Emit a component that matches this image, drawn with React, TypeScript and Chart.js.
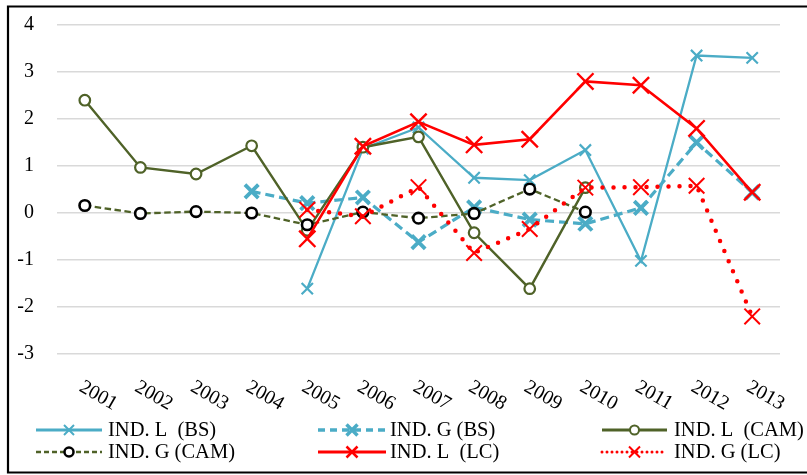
import React, { useEffect, useRef } from "react";
import { Chart, registerables } from "chart.js";

Chart.register(...registerables);

const years = ["2001", "2002", "2003", "2004", "2005", "2006", "2007", "2008", "2009", "2010", "2011", "2012", "2013"];
const indLBS = [null, null, null, null, -1.61, 1.37, 1.82, 0.75, 0.7, 1.34, -1.02, 3.35, 3.3];
const indGBS = [null, null, null, 0.46, 0.21, 0.33, -0.62, 0.12, -0.14, -0.23, 0.11, 1.5, 0.44];
const indLCAM = [2.4, 0.97, 0.83, 1.43, -0.37, 1.4, 1.62, -0.42, -1.61, 0.54, null, null, null];
const indGCAM = [0.16, -0.01, 0.03, 0.0, -0.25, 0.02, -0.11, -0.01, 0.51, 0.02, null, null, null];
const indLLC = [null, null, null, null, -0.55, 1.42, 1.94, 1.45, 1.57, 2.8, 2.72, 1.8, 0.44];
const indGLC = [null, null, null, null, 0.07, -0.07, 0.55, -0.85, -0.34, 0.54, 0.55, 0.58, -2.2];
const yMin = -3;
const yMax = 4;

const BLUE = "#4BACC6";
const OLIVE = "#4F6228";
const RED = "#FF0000";
const FONT = '"Liberation Serif", "Times New Roman", serif';

type LegendSpec = {
  label: string;
  color: string;
  width: number;
  dash: number[];
  cap: CanvasLineCap;
  marker: "x" | "circle";
  markerColor: string;
  markerWidth: number;
  markerSize: number;
};

const legendItems: LegendSpec[] = [
  { label: "IND. L  (BS)", color: BLUE, width: 3, dash: [], cap: "butt", marker: "x", markerColor: BLUE, markerWidth: 2, markerSize: 5 },
  { label: "IND. G (BS)", color: BLUE, width: 3.5, dash: [7, 5], cap: "butt", marker: "x", markerColor: BLUE, markerWidth: 3.5, markerSize: 5.5 },
  { label: "IND. L  (CAM)", color: OLIVE, width: 3, dash: [], cap: "butt", marker: "circle", markerColor: OLIVE, markerWidth: 2, markerSize: 4.5 },
  { label: "IND. G (CAM)", color: OLIVE, width: 2.5, dash: [5, 3], cap: "butt", marker: "circle", markerColor: "#000000", markerWidth: 2.5, markerSize: 4.5 },
  { label: "IND. L  (LC)", color: RED, width: 3, dash: [], cap: "butt", marker: "x", markerColor: RED, markerWidth: 2.5, markerSize: 5.5 },
  { label: "IND. G (LC)", color: RED, width: 3, dash: [0, 5], cap: "round", marker: "x", markerColor: RED, markerWidth: 2, markerSize: 5.5 },
];

const legendCols = [
  { x1: 36, x2: 102, tx: 108 },
  { x1: 318, x2: 386, tx: 390 },
  { x1: 602, x2: 667, tx: 674 },
];
const legendRows = [430, 452];

const overlayPlugin = {
  id: "overlay",
  afterDraw(chart: any) {
    const ctx: CanvasRenderingContext2D = chart.ctx;
    const xScale = chart.scales.x;
    // x labels, rotated clockwise
    ctx.save();
    ctx.fillStyle = "#000";
    ctx.font = `20px ${FONT}`;
    ctx.textAlign = "left";
    ctx.textBaseline = "top";
    years.forEach((yr, i) => {
      const px = xScale.getPixelForValue(i);
      ctx.save();
      ctx.translate(px + 1, 377);
      ctx.rotate((30 * Math.PI) / 180);
      ctx.fillText(yr, 0, 0);
      ctx.restore();
    });
    ctx.restore();

    // legend
    legendItems.forEach((it, idx) => {
      const col = legendCols[idx % 3];
      const y = legendRows[Math.floor(idx / 3)];
      ctx.save();
      ctx.strokeStyle = it.color;
      ctx.lineWidth = it.width;
      ctx.setLineDash(it.dash);
      ctx.lineCap = it.cap;
      ctx.beginPath();
      ctx.moveTo(col.x1, y);
      ctx.lineTo(col.x2, y);
      ctx.stroke();
      ctx.setLineDash([]);
      ctx.lineCap = "butt";
      const cx = (col.x1 + col.x2) / 2;
      ctx.strokeStyle = it.markerColor;
      ctx.lineWidth = it.markerWidth;
      if (it.marker === "x") {
        const s = it.markerSize;
        ctx.beginPath();
        ctx.moveTo(cx - s, y - s);
        ctx.lineTo(cx + s, y + s);
        ctx.moveTo(cx - s, y + s);
        ctx.lineTo(cx + s, y - s);
        ctx.stroke();
      } else {
        ctx.fillStyle = "#fff";
        ctx.beginPath();
        ctx.arc(cx, y, it.markerSize, 0, Math.PI * 2);
        ctx.fill();
        ctx.stroke();
      }
      ctx.fillStyle = "#000";
      ctx.font = `20.5px ${FONT}`;
      ctx.textAlign = "left";
      ctx.textBaseline = "middle";
      ctx.fillText(it.label, col.tx, y + 1);
      ctx.restore();
    });

    // border
    ctx.save();
    ctx.strokeStyle = "#000";
    ctx.lineWidth = 2.2;
    ctx.beginPath();
    ctx.moveTo(830, 6.5);
    ctx.lineTo(8, 6.5);
    ctx.lineTo(8, 472.5);
    ctx.lineTo(830, 472.5);
    ctx.stroke();
    ctx.restore();
  },
};

export default function App() {
  const ref = useRef<HTMLCanvasElement | null>(null);
  useEffect(() => {
    if (!ref.current) return;
    const chart = new Chart(ref.current, {
      type: "line",
      data: {
        labels: years,
        datasets: [
          {
            label: "IND. L  (BS)",
            data: indLBS,
            borderColor: BLUE,
            borderWidth: 2.3,
            pointStyle: "crossRot",
            pointRadius: 8,
            pointBorderWidth: 2.2,
            pointBorderColor: BLUE,
            pointBackgroundColor: BLUE,
            fill: false,
            order: 6,
          },
          {
            label: "IND. G (BS)",
            data: indGBS,
            borderColor: BLUE,
            borderWidth: 3.2,
            borderDash: [9, 5],
            pointStyle: "crossRot",
            pointRadius: 9.5,
            pointBorderWidth: 3.8,
            pointBorderColor: BLUE,
            pointBackgroundColor: BLUE,
            fill: false,
            order: 5,
          },
          {
            label: "IND. L  (CAM)",
            data: indLCAM,
            borderColor: OLIVE,
            borderWidth: 2.4,
            pointStyle: "circle",
            pointRadius: 5.3,
            pointBorderWidth: 2.2,
            pointBorderColor: OLIVE,
            pointBackgroundColor: "#fff",
            fill: false,
            order: 4,
          },
          {
            label: "IND. G (CAM)",
            data: indGCAM,
            borderColor: OLIVE,
            borderWidth: 2.3,
            borderDash: [6.5, 3.5],
            pointStyle: "circle",
            pointRadius: 5.3,
            pointBorderWidth: 2.6,
            pointBorderColor: "#000",
            pointBackgroundColor: "#fff",
            fill: false,
            order: 3,
          },
          {
            label: "IND. L  (LC)",
            data: indLLC,
            borderColor: RED,
            borderWidth: 2.6,
            pointStyle: "crossRot",
            pointRadius: 11.5,
            pointBorderWidth: 2.4,
            pointBorderColor: RED,
            pointBackgroundColor: RED,
            fill: false,
            order: 1,
          },
          {
            label: "IND. G (LC)",
            data: indGLC,
            borderColor: RED,
            borderWidth: 4.5,
            borderDash: [0, 11],
            borderCapStyle: "round",
            pointStyle: "crossRot",
            pointRadius: 11,
            pointBorderWidth: 2,
            pointBorderColor: RED,
            pointBackgroundColor: RED,
            fill: false,
            order: 2,
          },
        ] as any,
      },
      options: {
        animation: false,
        responsive: false,
        devicePixelRatio: 1,
        layout: { padding: { left: 0, right: 27, top: 25, bottom: 0 } },
        plugins: {
          legend: { display: false },
          tooltip: { enabled: false },
        },
        scales: {
          x: {
            type: "category",
            offset: true,
            grid: { display: false },
            border: { display: false },
            ticks: { display: false },
            afterFit: (s: any) => {
              s.height = 121;
              s.paddingLeft = 0;
              s.paddingRight = 0;
            },
          },
          y: {
            min: yMin,
            max: yMax,
            ticks: {
              stepSize: 1,
              color: "#000",
              padding: 23,
              font: { family: FONT, size: 20 },
            },
            grid: { color: "#D9D9D9", lineWidth: 1.6, drawTicks: false },
            border: { display: false },
            afterFit: (s: any) => {
              s.width = 57;
              s.paddingTop = 0;
              s.paddingBottom = 0;
            },
          },
        },
      } as any,
      plugins: [overlayPlugin],
    });
    return () => chart.destroy();
  }, []);
  return (
    <div style={{ position: "absolute", left: 0, top: 0, width: 807, height: 475, background: "#fff" }}>
      <canvas ref={ref} width={807} height={475} style={{ display: "block" }} />
    </div>
  );
}
